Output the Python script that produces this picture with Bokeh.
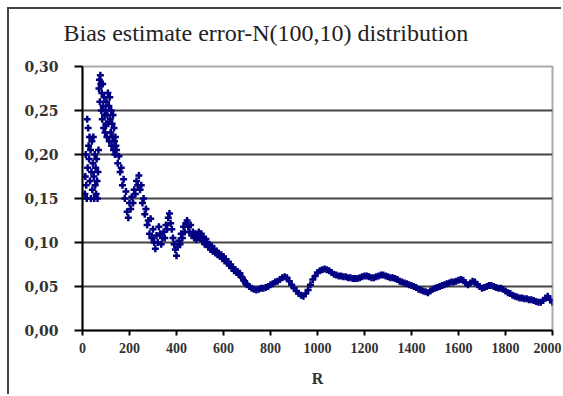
from bokeh.plotting import figure
from bokeh.models import FixedTicker, Range1d, Title
from bokeh.embed import file_html
from bokeh.resources import INLINE

# ---- data ----
r_early = [10, 12, 14, 16, 18, 20, 22, 24, 26, 28, 30, 32, 34, 36, 38, 40, 42, 44, 46, 48,
           50, 52, 54, 56, 58, 60, 62, 64, 66, 68,
           70, 72, 74, 76, 78, 80, 82, 84, 86, 88, 90, 92, 94, 96, 98, 100, 102, 104, 106,
           108, 110, 112, 114, 116, 118, 120, 122, 124, 126, 128, 130, 132, 134, 136, 138,
           140, 142]
bias_early = [0.155, 0.175, 0.200, 0.165, 0.150, 0.240, 0.185, 0.230, 0.210, 0.195,
              0.220, 0.170, 0.205, 0.150, 0.180, 0.215, 0.160, 0.190, 0.220, 0.175,
              0.150, 0.200, 0.165, 0.185, 0.155, 0.195, 0.170, 0.150, 0.180, 0.205,
              0.275, 0.285, 0.260, 0.290, 0.280, 0.250, 0.270, 0.240, 0.280, 0.255,
              0.230, 0.265, 0.245, 0.225, 0.250, 0.235, 0.260, 0.220, 0.245, 0.270,
              0.235, 0.255, 0.215, 0.265, 0.240, 0.225, 0.250, 0.210, 0.235, 0.220,
              0.245, 0.205, 0.230, 0.215, 0.200, 0.220, 0.210]

r_mid = [145, 150, 155, 160, 165, 170, 175, 180, 185, 190, 195, 200, 205, 210, 215, 220,
         225, 230, 235, 240, 245, 250, 255, 260, 265, 270, 275, 280, 285, 290, 295,
         300, 305, 310, 315, 320, 325, 330, 335, 340, 345, 350, 355, 360, 365, 370, 375,
         380, 385, 390, 395, 400, 405, 410, 415, 420, 425, 430, 435, 440, 445, 450, 455,
         460, 465, 470, 475, 480, 485, 490, 495, 500, 505, 510, 515, 520, 525, 530, 535,
         540, 545, 550, 555, 560, 565, 570, 575, 580, 585, 590, 595, 600, 605, 610, 615,
         620, 625, 630, 635, 640, 645, 650, 655, 660, 665, 670, 675, 680, 685, 690, 695]
bias_mid = [0.205, 0.190, 0.198, 0.180, 0.185, 0.165, 0.172, 0.150, 0.158, 0.135,
            0.128, 0.145, 0.138, 0.152, 0.145, 0.160, 0.155, 0.170, 0.165, 0.176,
            0.160, 0.165, 0.145, 0.150, 0.132, 0.138, 0.120, 0.125, 0.110, 0.127,
            0.105,
            0.115, 0.100, 0.093, 0.108, 0.100, 0.118, 0.110, 0.098, 0.105, 0.112,
            0.105, 0.120, 0.115, 0.128, 0.133, 0.122, 0.115, 0.105, 0.098, 0.092,
            0.085, 0.095, 0.102, 0.098, 0.110, 0.105, 0.118, 0.112, 0.122, 0.125,
            0.118, 0.112, 0.120, 0.108, 0.112, 0.105, 0.110, 0.103, 0.108, 0.112,
            0.105, 0.110, 0.102, 0.106, 0.098, 0.104, 0.100, 0.095, 0.098, 0.092,
            0.096, 0.090, 0.093, 0.088, 0.090, 0.086, 0.088, 0.084, 0.086, 0.082,
            0.084, 0.079, 0.081, 0.077, 0.078, 0.074, 0.075, 0.071, 0.072, 0.068,
            0.069, 0.066, 0.067, 0.064, 0.065, 0.061, 0.060, 0.057, 0.056, 0.053]

r_late = [700, 710, 720, 730, 740, 750, 760, 770,
          780, 790, 800, 810, 820, 830, 840, 850, 860, 870, 880, 890, 900, 910, 920, 930,
          940, 950, 960, 970, 980, 990, 1000, 1010, 1020, 1030, 1040, 1050, 1060, 1070,
          1080, 1090, 1100, 1110, 1120, 1130, 1140, 1150, 1160, 1170, 1180, 1190, 1200,
          1210, 1220, 1230, 1240, 1250, 1260, 1270, 1280, 1290, 1300, 1310, 1320, 1330,
          1340, 1350, 1360, 1370, 1380, 1390, 1400, 1410, 1420, 1430, 1440, 1450, 1460,
          1470, 1480, 1490, 1500, 1510, 1520, 1530, 1540, 1550, 1560, 1570, 1580, 1590,
          1600, 1610, 1620, 1630, 1640, 1650, 1660, 1670, 1680, 1690, 1700, 1710, 1720,
          1730, 1740, 1750, 1760, 1770, 1780, 1790, 1800, 1810, 1820, 1830, 1840, 1850,
          1860, 1870, 1880, 1890, 1900, 1910, 1920, 1930, 1940, 1950, 1960, 1970, 1980,
          1990, 2000]
bias_late = [0.052, 0.050, 0.048, 0.047, 0.046, 0.047, 0.048, 0.048, 0.049, 0.050,
             0.052, 0.053, 0.055, 0.056, 0.058, 0.060, 0.061, 0.060, 0.056, 0.052,
             0.048, 0.045, 0.042, 0.040, 0.039, 0.042, 0.046, 0.052, 0.058, 0.062,
             0.066, 0.068, 0.069, 0.070, 0.069, 0.068, 0.066, 0.064, 0.063, 0.062,
             0.062, 0.061, 0.061, 0.060, 0.060, 0.059, 0.059, 0.059, 0.060, 0.061,
             0.062, 0.062, 0.061, 0.060, 0.060, 0.061, 0.062, 0.063, 0.063, 0.062,
             0.061, 0.060, 0.060, 0.059, 0.058, 0.056, 0.055, 0.054, 0.053, 0.052,
             0.051, 0.050, 0.049, 0.047, 0.046, 0.045, 0.044, 0.043, 0.045, 0.047,
             0.048, 0.049, 0.050, 0.051, 0.052, 0.053, 0.054, 0.055, 0.055, 0.056,
             0.057, 0.058, 0.057, 0.054, 0.052, 0.054, 0.056, 0.055, 0.052, 0.050,
             0.048, 0.049, 0.050, 0.051, 0.051, 0.050, 0.049, 0.048, 0.048, 0.047,
             0.045, 0.043, 0.042, 0.040, 0.039, 0.038, 0.037, 0.037, 0.036, 0.036,
             0.035, 0.035, 0.034, 0.033, 0.032, 0.032, 0.034, 0.037, 0.039, 0.035,
             0.032]

x_ticks = [0, 200, 400, 600, 800, 1000, 1200, 1400, 1600, 1800, 2000]
y_ticks = [0.0, 0.05, 0.10, 0.15, 0.20, 0.25, 0.30]
y_tick_labels = ["0,00", "0,05", "0,10", "0,15", "0,20", "0,25", "0,30"]

r_all = r_early + r_mid + r_late
bias_all = bias_early + bias_mid + bias_late

FONT = "Liberation Serif"

p = figure(width=554, height=387, output_backend="svg", toolbar_location=None,
           x_range=Range1d(0, 2000), y_range=Range1d(0, 0.30),
           min_border_left=73, min_border_right=11, min_border_top=57,
           min_border_bottom=66, background_fill_color="white",
           border_fill_color="white")
p.styles = {"margin-left": "7px", "margin-top": "7px",
            "border-left": "2px solid #444444", "border-top": "2px solid #444444"}

p.scatter(r_all, bias_all, marker="cross", size=7, line_width=2.5, color="#000080")

p.title.text = "Bias estimate error-N(100,10) distribution"
p.title.text_font = FONT
p.title.text_font_size = "24px"
p.title.text_font_style = "normal"
p.title.text_color = "#222222"
p.title.align = "left"
p.title.offset = -19
p.title.standoff = 4

# blank spacer panel between the title and the plot area
p.add_layout(Title(text=" ", text_font_size="1px", standoff=16), "above")

p.outline_line_color = "#aaaaaa"
p.outline_line_width = 2

p.xgrid.visible = False
p.ygrid.ticker = FixedTicker(ticks=[0.05, 0.10, 0.15, 0.20, 0.25])
p.ygrid.grid_line_color = "#444444"
p.ygrid.grid_line_width = 2

for ax in (p.xaxis[0], p.yaxis[0]):
    ax.axis_line_color = "black"
    ax.axis_line_width = 2
    ax.major_tick_line_color = "black"
    ax.major_tick_line_width = 2
    ax.major_tick_in = 0
    ax.minor_tick_line_color = None
    ax.major_label_text_font = FONT
    ax.major_label_text_font_size = "14px"
    ax.major_label_text_font_style = "bold"
    ax.major_label_text_color = "#333333"

p.yaxis.ticker = FixedTicker(ticks=y_ticks)
p.yaxis.major_label_overrides = {t: s for t, s in zip(y_ticks, y_tick_labels)}
p.yaxis.major_label_text_font = "DejaVu Serif"
p.yaxis.major_label_text_font_size = "14px"
p.yaxis.major_tick_out = 8
p.yaxis.major_label_standoff = 16

p.xaxis.ticker = FixedTicker(ticks=x_ticks)
p.xaxis.major_tick_out = 5
p.xaxis.major_label_standoff = 7
p.xaxis.axis_label = "R"
p.xaxis.axis_label_text_font = FONT
p.xaxis.axis_label_text_font_size = "16px"
p.xaxis.axis_label_text_font_style = "bold"
p.xaxis.axis_label_text_color = "#333333"
p.xaxis.axis_label_standoff = 14

open("out.html", "w").write(file_html(p, INLINE))
